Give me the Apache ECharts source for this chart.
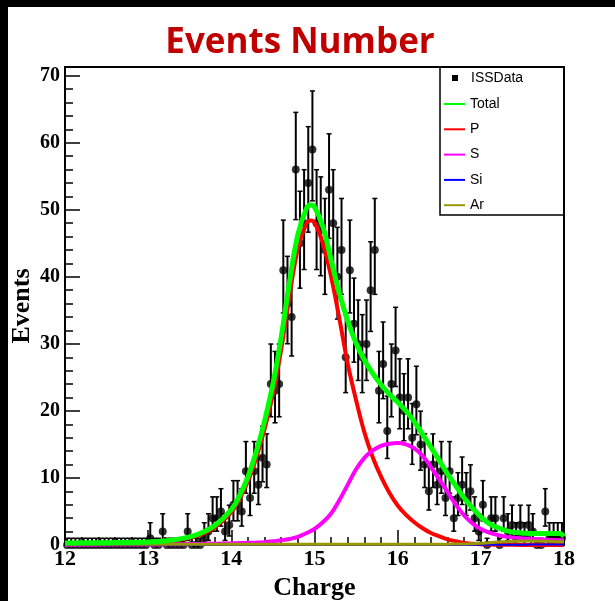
<!DOCTYPE html>
<html>
<head>
<meta charset="utf-8">
<script src="https://cdn.jsdelivr.net/npm/echarts@6/dist/echarts.min.js"></script>
<style>
html, body { margin: 0; padding: 0; background: #fff; }
#chart { width: 615px; height: 601px; }
</style>
</head>
<body>
<div id="chart"></div>
<script>
// histogram: 120 bins, 0.05 wide, from 12 to 18
let binLow = 12
let binWidth = 0.05
let counts = [
    0, 0, 0, 0, 0, 0, 0, 0, 0, 0,
    0, 0, 0, 0, 0, 0, 0, 0, 0, 0,
    1, 0, 0, 2, 0, 0, 0, 0, 0, 2,
    0, 0, 0, 1, 2, 4, 4, 5, 2, 3,
    6, 6, 5, 11, 7, 11, 9, 13, 12, 24,
    23, 24, 41, 36, 34, 56, 45, 48, 54, 59,
    48, 47, 44, 53, 48, 40, 44, 28, 41, 33,
    30, 28, 30, 38, 44, 23, 27, 17, 24, 29,
    22, 20, 22, 16, 21, 15, 12, 8, 12, 9,
    11, 7, 11, 4, 7, 9, 7, 8, 4, 2,
    6, 0, 4, 4, 0, 4, 2, 3, 1, 3,
    1, 3, 2, 0, 0, 5, 1, 1, 1, 1
]

// fitted curves
let fitX = [12.0, 12.5, 13.0, 13.2, 13.4, 13.6, 13.8, 14.0, 14.1, 14.2, 14.3, 14.4, 14.5, 14.6, 14.7, 14.8, 14.9, 14.95,
    15.0, 15.1, 15.2, 15.3, 15.4, 15.5, 15.6, 15.7, 15.8, 15.9, 16.0, 16.1, 16.2, 16.3, 16.4, 16.5, 16.6, 16.7, 16.8, 16.9,
    17.0, 17.1, 17.2, 17.3, 17.4, 17.6, 17.8, 17.95, 18.0]
let totalY = [0.3, 0.35, 0.45, 0.6, 0.95, 1.6, 2.9, 5.3, 7.4, 10.2, 13.9, 18.5, 24, 31, 39.3, 46.3, 50.1, 50.7,
    50.4, 47.5, 42.5, 37.5, 33.4, 30.1, 27.6, 25.6, 23.9, 22.5, 21.3, 20.0, 18.4, 16.5, 14.6, 12.6, 10.6, 8.8, 7.0, 5.5,
    4.2, 3.2, 2.6, 2.15, 1.9, 1.7, 1.7, 1.7, 1.3]
let pY = [0.25, 0.3, 0.35, 0.45, 0.8, 1.4, 2.6, 4.9, 6.9, 9.5, 13.0, 17.3, 22.5, 29.2, 37.2, 44.2, 47.9, 48.4,
    48.1, 45.0, 40.0, 33.7, 27.0, 21.6, 16.8, 13.1, 10.2, 7.8, 5.9, 4.5, 3.4, 2.5, 1.8, 1.3, 0.85, 0.55, 0.3, 0.18,
    0.1, 0.06, 0.04, 0.03, 0.02, 0.01, 0, 0, 0]
let sY = [0.05, 0.06, 0.08, 0.1, 0.12, 0.15, 0.2, 0.25, 0.3, 0.33, 0.37, 0.42, 0.55, 0.7, 0.9, 1.2, 1.75, 2.05,
    2.4, 3.4, 4.7, 6.7, 9.0, 11.3, 13.0, 14.1, 14.8, 15.1, 15.2, 15.0, 14.4, 13.3, 11.6, 9.8, 7.9, 6.0, 4.4, 3.2,
    2.4, 1.85, 1.5, 1.25, 1.1, 0.9, 0.8, 0.7, 0.7]
let siY = [0, 0, 0, 0, 0, 0, 0, 0, 0, 0, 0, 0, 0, 0, 0, 0, 0, 0,
    0, 0, 0, 0, 0, 0, 0, 0, 0, 0, 0, 0, 0, 0, 0, 0, 0, 0.01, 0.01, 0.02,
    0.02, 0.03, 0.03, 0.04, 0.05, 0.06, 0.07, 0.08, 0.08]
let arY = [0.12, 0.12, 0.12, 0.12, 0.12, 0.12, 0.12, 0.12, 0.12, 0.12, 0.12, 0.12, 0.12, 0.12, 0.12, 0.12, 0.12, 0.12,
    0.12, 0.12, 0.12, 0.12, 0.12, 0.12, 0.12, 0.12, 0.12, 0.12, 0.12, 0.12, 0.12, 0.12, 0.12, 0.12, 0.13, 0.14, 0.15, 0.2,
    0.25, 0.35, 0.45, 0.5, 0.55, 0.6, 0.55, 0.5, 0.5]

let xTicks = [12, 13, 14, 15, 16, 17, 18]
let yTicks = [0, 10, 20, 30, 40, 50, 60, 70]

// points and poisson style error bars
let points = []
let errbars = []
for (let i = 0; i < counts.length; i++) {
    let n = counts[i]
    let x = binLow + (i + 0.5) * binWidth
    let hi = n == 0 ? 1 : n + Math.sqrt(n + 0.75) + 1
    let lo = n == 0 ? 0 : n - Math.sqrt(n - 0.25)
    points.push([x, n])
    errbars.push([x, n, lo, hi])
}

function pairs(ys) {
    return fitX.map((x, i) => [x, ys[i]])
}

function renderErr(params, api) {
    let x = api.value(0)
    let top = api.coord([x, api.value(3)])
    let bot = api.coord([x, api.value(2)])
    let cap = { stroke: '#000', lineWidth: 1.5 }
    return {
        type: 'group',
        children: [
            { type: 'line', shape: { x1: top[0], y1: top[1], x2: bot[0], y2: bot[1] }, style: { stroke: '#000', lineWidth: 2 } },
            { type: 'line', shape: { x1: top[0] - 2.5, y1: top[1], x2: top[0] + 2.5, y2: top[1] }, style: cap },
            { type: 'line', shape: { x1: bot[0] - 2.5, y1: bot[1], x2: bot[0] + 2.5, y2: bot[1] }, style: cap }
        ]
    }
}

function curve(name, ys, color, width, z) {
    return {
        name: name,
        type: 'line',
        data: pairs(ys),
        smooth: 0.4,
        symbol: 'none',
        showSymbol: false,
        lineStyle: { color: color, width: width },
        itemStyle: { color: color },
        z: z,
        silent: true
    }
}

let serif = 'Liberation Serif'
let sans = 'Liberation Sans'
let legendLines = ['Total', 'P', 'S', 'Si', 'Ar']

let chart = echarts.init(document.getElementById('chart'))
let option = {
    animation: false,
    backgroundColor: '#fff',
    grid: {
        left: 65, right: 51, top: 67, bottom: 56, show: true, borderColor: '#000', borderWidth: 2,
        containLabel: false, outerBoundsMode: 'none'
    },
    graphic: [
        { type: 'rect', shape: { x: 0, y: 0, width: 615, height: 7 }, style: { fill: '#000' }, z: 100 },
        { type: 'rect', shape: { x: 0, y: 0, width: 8, height: 601 }, style: { fill: '#000' }, z: 100 },
        { type: 'rect', shape: { x: 440, y: 67, width: 124, height: 148 }, style: { fill: 'none', stroke: '#000', lineWidth: 1.5 }, z: 50 },
        {
            type: 'text', x: 300, y: 43, z: 100,
            style: { text: 'Events Number', fill: '#c00000', font: 'bold 35px "Open Sans"', textAlign: 'center', textVerticalAlign: 'middle' }
        }
    ],
    legend: [
        {
            data: [{ name: 'ISSData', icon: 'rect' }],
            orient: 'vertical', left: 452, top: 71, padding: 0,
            itemWidth: 6, itemHeight: 6, selectedMode: false,
            itemStyle: { color: '#000' },
            textStyle: { fontFamily: sans, fontSize: 14, color: '#000', lineHeight: 14, padding: [0, 0, 0, 8] }
        },
        {
            data: legendLines.map(n => ({ name: n, icon: 'rect' })),
            orient: 'vertical', left: 444, top: 97, padding: 0,
            itemWidth: 21, itemHeight: 2, itemGap: 11.3, selectedMode: false,
            textStyle: { fontFamily: sans, fontSize: 14, color: '#000', lineHeight: 14 }
        }
    ],
    xAxis: {
        type: 'value', min: xTicks[0], max: xTicks[xTicks.length - 1], interval: 1,
        name: 'Charge', nameLocation: 'middle', nameGap: 30,
        nameTextStyle: { fontFamily: serif, fontWeight: 'bold', fontSize: 26, color: '#000' },
        axisLine: { lineStyle: { color: '#000', width: 2 } },
        axisTick: { inside: true, length: 15, lineStyle: { color: '#000', width: 1.5 } },
        minorTick: { show: true, splitNumber: 5, length: 8, lineStyle: { color: '#000', width: 1.5 } },
        splitLine: { show: false },
        axisLabel: { fontFamily: serif, fontWeight: 'bold', fontSize: 22, color: '#000', margin: 3 }
    },
    yAxis: {
        type: 'value', min: yTicks[0], max: 71.3, interval: 10,
        name: 'Events', nameLocation: 'middle', nameGap: 30, nameMoveOverlap: false,
        nameTextStyle: { fontFamily: serif, fontWeight: 'bold', fontSize: 26, color: '#000' },
        axisLine: { lineStyle: { color: '#000', width: 2 } },
        axisTick: { inside: true, length: 15, lineStyle: { color: '#000', width: 1.5 } },
        minorTick: { show: true, splitNumber: 5, length: 8, lineStyle: { color: '#000', width: 1.5 } },
        splitLine: { show: false },
        axisLabel: {
            fontFamily: serif, fontWeight: 'bold', fontSize: 20, color: '#000', margin: 5, showMaxLabel: false,
            formatter: v => (yTicks.indexOf(v) >= 0 ? String(v) : '')
        }
    },
    series: [
        { name: 'ISSData', type: 'custom', renderItem: renderErr, data: errbars, clip: true, z: 1, silent: true },
        { name: 'ISSData', type: 'scatter', data: points, symbol: 'circle', symbolSize: 8, itemStyle: { color: '#000' }, z: 2, silent: true },
        curve('P', pY, '#ff0000', 4, 3),
        curve('S', sY, '#ff00ff', 4, 4),
        curve('Si', siY, '#0000ff', 2, 5),
        curve('Ar', arY, '#999900', 3, 6),
        curve('Total', totalY, '#00ff00', 5, 7)
    ]
}
chart.setOption(option)
</script>
</body>
</html>
